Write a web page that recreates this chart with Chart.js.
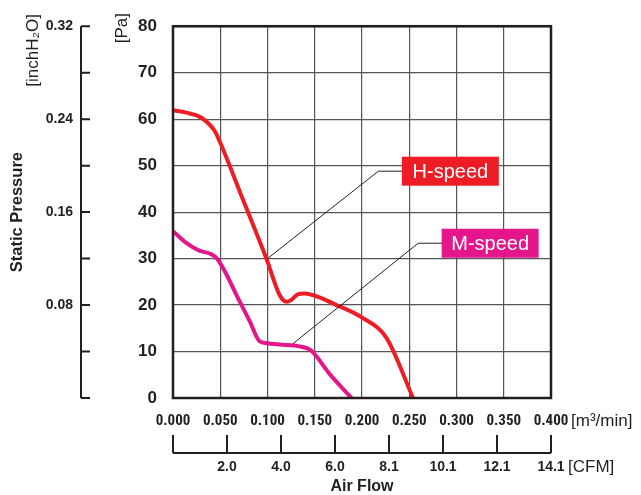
<!DOCTYPE html>
<html>
<head>
<meta charset="utf-8">
<script src="https://cdn.jsdelivr.net/npm/chart.js@4.4.1/dist/chart.umd.min.js"></script>
<style>
  html, body { margin: 0; padding: 0; background: #fff; }
  #wrap { width: 641px; height: 495px; }
</style>
</head>
<body>
<div id="wrap"><canvas id="pq"></canvas></div>
<script>
// P-Q curves
const flowH  = [0, 0.014, 0.030, 0.044, 0.049, 0.074, 0.099, 0.113, 0.120, 0.125, 0.132, 0.139, 0.173, 0.201, 0.226, 0.254];
const pressH = [61.9, 61.4, 60.3, 57.5, 55.4, 42.7, 29.9, 22.1, 20.7, 21.1, 22.3, 22.5, 20.0, 17.2, 12.9, 0];

const flowM  = [0, 0.014, 0.028, 0.040, 0.047, 0.0705, 0.081, 0.0916, 0.099, 0.113, 0.134, 0.145, 0.150, 0.166, 0.189];
const pressM = [35.9, 33.4, 31.7, 31.0, 29.9, 20.8, 16.6, 12.2, 11.8, 11.5, 11.1, 10.4, 9.4, 5.1, 0];

const seriesNames = ['H-speed', 'M-speed'];
// leader line: [point on curve x, y], [label x, y]
const pointAt = [[0.100, 30.0], [0.127, 11.7]];
const labelAt = [[0.2935, 48.8], [0.3356, 33.3]];

const cfmTicks  = ['', '2.0', '4.0', '6.0', '8.1', '10.1', '12.1', '14.1'];
const inchTicks = [0.08, 0.16, 0.24, 0.32];

const RED = '#ee1d25';
const PINK = '#e5168c';
const INK = '#231f20';
const GRID = '#555557';

const toXY = (xs, ys) => xs.map((x, i) => ({ x: x, y: ys[i] }));

const extras = {
  id: 'extras',
  afterDatasetsDraw(chart) {
    const ctx = chart.ctx;
    const x = chart.scales.x, y = chart.scales.y;
    const colors = [RED, PINK];
    ctx.save();
    // leader lines
    ctx.strokeStyle = INK;
    ctx.lineWidth = 1;
    for (let i = 0; i < 2; i++) {
      const lx = x.getPixelForValue(labelAt[i][0]);
      const ly = y.getPixelForValue(labelAt[i][1]);
      ctx.beginPath();
      ctx.moveTo(x.getPixelForValue(pointAt[i][0]), y.getPixelForValue(pointAt[i][1]));
      ctx.lineTo(lx - 72, ly);
      ctx.lineTo(lx, ly);
      ctx.stroke();
    }
    // label boxes
    ctx.font = '20px "Liberation Sans", Arial, sans-serif';
    ctx.textAlign = 'center';
    ctx.textBaseline = 'middle';
    for (let i = 0; i < 2; i++) {
      const lx = x.getPixelForValue(labelAt[i][0]);
      const ly = y.getPixelForValue(labelAt[i][1]);
      ctx.fillStyle = colors[i];
      ctx.fillRect(lx - 48.5, ly - 14.5, 97, 29);
      ctx.fillStyle = '#fff';
      ctx.fillText(seriesNames[i], lx, ly + 1);
    }
    ctx.restore();
  },
  afterDraw(chart) {
    const ctx = chart.ctx;
    const a = chart.chartArea;
    const y2 = chart.scales.y2, x2 = chart.scales.x2;
    ctx.save();
    // plot frame
    ctx.strokeStyle = INK;
    ctx.lineWidth = 2.5;
    ctx.strokeRect(a.left, a.top, a.right - a.left, a.bottom - a.top);

    // inchH2O bracket axis
    ctx.lineWidth = 2;
    const bx = 81;
    ctx.beginPath();
    ctx.moveTo(bx, y2.getPixelForValue(0.32));
    ctx.lineTo(bx, y2.getPixelForValue(0));
    for (let k = 0; k <= 8; k++) {
      const py = y2.getPixelForValue(k * 0.04);
      ctx.moveTo(bx, py);
      ctx.lineTo(bx + 9, py);
    }
    ctx.stroke();

    // CFM bracket axis
    const by = 453;
    ctx.beginPath();
    ctx.moveTo(x2.getPixelForValue(0), by);
    ctx.lineTo(x2.getPixelForValue(14.1), by);
    for (let k = 0; k < cfmTicks.length; k++) {
      const px = x2.getPixelForValue(k * 14.1 / 7);
      ctx.moveTo(px, by);
      ctx.lineTo(px, by - 18);
    }
    ctx.stroke();

    // unit labels
    ctx.fillStyle = INK;
    ctx.textBaseline = 'middle';
    ctx.textAlign = 'left';
    ctx.font = '17px "Liberation Sans", Arial, sans-serif';
    ctx.fillText('[m\u00b3/min]', 571, 421);
    ctx.fillText('[CFM]', 568, 467);

    ctx.textAlign = 'right';
    ctx.translate(33, 14);
    ctx.rotate(-Math.PI / 2);
    ctx.font = '17px "Liberation Sans", "DejaVu Sans", Arial, sans-serif';
    ctx.fillText('[inchH\u2082O]', 0, 0);
    ctx.restore();

    ctx.save();
    ctx.fillStyle = INK;
    ctx.textAlign = 'right';
    ctx.textBaseline = 'middle';
    ctx.translate(122, 13);
    ctx.rotate(-Math.PI / 2);
    ctx.font = '17px "Liberation Sans", Arial, sans-serif';
    ctx.fillText('[Pa]', 0, 0);
    ctx.restore();
  }
};

new Chart(document.getElementById('pq'), {
  type: 'line',
  data: {
    datasets: [
      { label: seriesNames[0], data: toXY(flowH, pressH), borderColor: RED, borderWidth: 4,
        pointRadius: 0, cubicInterpolationMode: 'monotone', fill: false },
      { label: seriesNames[1], data: toXY(flowM, pressM), borderColor: PINK, borderWidth: 4,
        pointRadius: 0, cubicInterpolationMode: 'monotone', fill: false }
    ]
  },
  options: {
    responsive: true,
    maintainAspectRatio: false,
    animation: false,
    layout: { padding: { top: 20, right: 90, left: 0, bottom: 0 } },
    plugins: { legend: { display: false }, tooltip: { enabled: false } },
    scales: {
      x: {
        type: 'linear', position: 'bottom', min: 0, max: 0.4, weight: 0,
        afterFit: s => { s.height = 30; },
        grid: { color: GRID, lineWidth: 1.2, drawTicks: false },
        border: { display: false },
        ticks: {
          stepSize: 0.05, autoSkip: false, maxRotation: 0, padding: 14, color: INK,
          font: { family: '"Liberation Sans Narrow", "Roboto Condensed", "Liberation Sans", sans-serif', size: 15, weight: 'bold' },
          callback: v => v.toFixed(3)
        }
      },
      x2: {
        type: 'linear', position: 'bottom', min: 0, max: 14.1, weight: 1,
        afterFit: s => { s.height = 67; },
        afterBuildTicks: s => { s.ticks = cfmTicks.map((t, k) => ({ value: k * 14.1 / 7 })); },
        grid: { display: false, drawTicks: false },
        border: { display: false },
        ticks: {
          autoSkip: false, maxRotation: 0, padding: 31, color: INK,
          font: { family: '"Liberation Sans", Arial, sans-serif', size: 14, weight: 'bold' },
          callback: (v, i) => cfmTicks[i]
        },
        title: {
          display: true, text: 'Air Flow', color: INK, padding: { top: 0, bottom: 0 },
          font: { family: '"Liberation Sans", Arial, sans-serif', size: 16, weight: 'bold', lineHeight: 1 }
        }
      },
      y: {
        type: 'linear', position: 'left', min: 0, max: 80, weight: 0,
        afterFit: s => { s.width = 83; },
        grid: { color: GRID, lineWidth: 1.2, drawTicks: false },
        border: { display: false },
        ticks: {
          stepSize: 10, padding: 16, color: INK,
          font: { family: '"Liberation Sans", Arial, sans-serif', size: 17, weight: 'bold' }
        }
      },
      y2: {
        type: 'linear', position: 'left', min: 0, max: 0.32, weight: 1,
        afterFit: s => { s.width = 90; },
        afterBuildTicks: s => { s.ticks = inchTicks.map(v => ({ value: v })); },
        grid: { display: false, drawTicks: false },
        border: { display: false },
        ticks: {
          padding: 17, color: INK,
          font: { family: '"Liberation Sans", Arial, sans-serif', size: 14, weight: 'bold' },
          callback: v => v.toFixed(2)
        },
        title: {
          display: true, text: 'Static Pressure', color: INK, padding: { top: 8, bottom: 0 },
          font: { family: '"Liberation Sans", Arial, sans-serif', size: 16.5, weight: 'bold' }
        }
      }
    }
  },
  plugins: [extras]
});
</script>
</body>
</html>
